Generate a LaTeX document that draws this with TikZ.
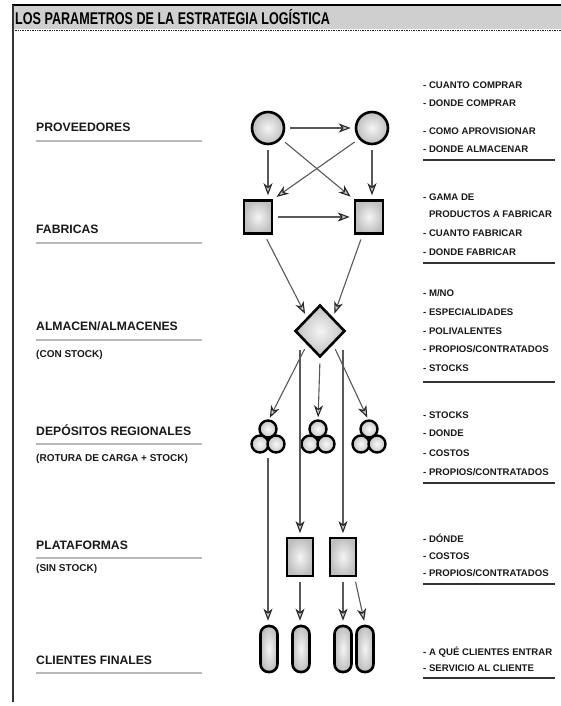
\documentclass[tikz,border=0pt]{standalone}
\usepackage{fontspec}
\setmainfont{Liberation Sans}
\newfontfamily\titlefont[FakeStretch=0.74]{Liberation Sans}
\usetikzlibrary{arrows.meta,shapes.geometric}

\tikzset{
  blob/.style={draw=black, line width=2.6pt, inner color=gray!8, outer color=gray!50},
  supplier/.style={circle, blob, minimum size=32pt, inner sep=0pt},
  factory/.style={rectangle, blob, minimum width=28pt, minimum height=33pt, inner sep=0pt},
  warehouse/.style={diamond, blob, minimum width=50pt, minimum height=52pt, inner sep=0pt},
  platform/.style={rectangle, blob, line width=1.8pt, minimum width=26pt, minimum height=38pt, inner sep=0pt},
  client/.style={rectangle, rounded corners=8pt, blob, minimum width=17pt, minimum height=46pt, inner sep=0pt},
  hub/.style={rectangle, minimum width=32pt, minimum height=31pt, inner sep=0pt},
  depotball/.style={draw=black, line width=2.4pt, inner color=gray!5, outer color=gray!45},
  flow/.style={draw=black!65, line width=1.1pt, shorten <=5pt, shorten >=4pt,
    -{Stealth[length=12pt, width=9pt, inset=3.5pt, color=black!85, fill=gray!45]}},
  lab/.style={anchor=west, inner sep=0pt, text height=0.72em, text depth=0pt,
    text=black!90, font=\bfseries\fontsize{12.2}{14}\selectfont},
  sublab/.style={anchor=west, inner sep=0pt, text height=0.72em, text depth=0pt,
    text=black!90, font=\bfseries\fontsize{10}{12}\selectfont},
  item/.style={anchor=west, inner sep=0pt, text height=0.72em, text depth=0pt,
    text=black!90, font=\bfseries\fontsize{9.6}{11}\selectfont},
  leftrule/.style={draw=gray!55, line width=1.6pt},
  rightrule/.style={draw=black!80, line width=1.2pt},
}

\begin{document}
\begin{tikzpicture}[x=1pt, y=-1pt]
  \useasboundingbox (0,0) rectangle (561,706);
  \fill[white] (0,0) rectangle (561,706);

  % header band and frame
  \fill[gray!38] (13,5) rectangle (561,29);
  \draw[black, line width=1.8pt] (12,5) -- (561,5);
  \draw[black!85, densely dotted, line width=0.7pt] (13,30) -- (561,30);
  \draw[black!80, line width=1.8pt] (13,5) -- (13,702);
  \node[anchor=west, inner sep=0pt, font=\titlefont\bfseries\fontsize{17}{17}\selectfont]
    (title) at (15,17) {LOS PARAMETROS DE LA ESTRATEGIA LOGÍSTICA};

  % level labels
  \node[lab] (lprov) at (36,128) {PROVEEDORES};
  \draw[leftrule] (36,141) -- (202,141);
  \node[lab] (lfab) at (36,230) {FABRICAS};
  \draw[leftrule] (36,243) -- (202,243);
  \node[lab] (lalm) at (36,327) {ALMACEN/ALMACENES};
  \draw[leftrule] (36,340) -- (202,340);
  \node[sublab] (lalms) at (36,354) {(CON STOCK)};
  \node[lab] (ldep) at (36,432) {DEPÓSITOS REGIONALES};
  \draw[leftrule] (36,444) -- (202,444);
  \node[sublab] (ldeps) at (36,458) {(ROTURA DE CARGA + STOCK)};
  \node[lab] (lplat) at (36,546) {PLATAFORMAS};
  \draw[leftrule] (36,558) -- (202,558);
  \node[sublab] (lplats) at (36,568) {(SIN STOCK)};
  \node[lab] (lcli) at (36,661) {CLIENTES FINALES};
  \draw[leftrule] (36,673) -- (202,673);

  % decision lists
  \node[item] (i1) at (423,85) {- CUANTO COMPRAR};
  \node[item] (i2) at (423,103) {- DONDE COMPRAR};
  \node[item] (i3) at (423,131) {- COMO APROVISIONAR};
  \node[item] (i4) at (423,149) {- DONDE ALMACENAR};
  \draw[rightrule] (423,160) -- (555,160);
  \node[item] (i5) at (423,197) {- GAMA DE};
  \node[item] (i6) at (423,214) {\phantom{- }PRODUCTOS A FABRICAR};
  \node[item] (i7) at (423,233) {- CUANTO FABRICAR};
  \node[item] (i8) at (423,252) {- DONDE FABRICAR};
  \draw[rightrule] (423,263) -- (555,263);
  \node[item] (i9) at (423,293) {- M/NO};
  \node[item] (i10) at (423,312) {- ESPECIALIDADES};
  \node[item] (i11) at (423,331) {- POLIVALENTES};
  \node[item] (i12) at (423,349) {- PROPIOS/CONTRATADOS};
  \node[item] (i13) at (423,368) {- STOCKS};
  \draw[rightrule] (423,382) -- (555,382);
  \node[item] (i14) at (423,415) {- STOCKS};
  \node[item] (i15) at (423,433) {- DONDE};
  \node[item] (i16) at (423,453) {- COSTOS};
  \node[item] (i17) at (423,472) {- PROPIOS/CONTRATADOS};
  \draw[rightrule] (423,483) -- (555,483);
  \node[item] (i18) at (423,539) {- DÓNDE};
  \node[item] (i19) at (423,556) {- COSTOS};
  \node[item] (i20) at (423,573) {- PROPIOS/CONTRATADOS};
  \draw[rightrule] (423,584) -- (555,584);
  \node[item] (i21) at (423,652) {- A QUÉ CLIENTES ENTRAR};
  \node[item] (i22) at (423,668) {- SERVICIO AL CLIENTE};
  \draw[rightrule] (423,678) -- (555,678);

  % network shapes
  \node[supplier] (p1) at (268,128) {};
  \node[supplier] (p2) at (372,128) {};
  \node[factory] (f1) at (258,217) {};
  \node[factory] (f2) at (369,217) {};
  \node[warehouse] (alm) at (320,331) {};
  \foreach \n/\x in {d1/268, d2/318, d3/369} {
    \node[hub] (\n) at (\x,437) {};
    \path[depotball] (\x,429) circle[radius=8.5pt];
    \path[depotball] (\x-8,444) circle[radius=8.5pt];
    \path[depotball] (\x+8,444) circle[radius=8.5pt];
  }
  \node[platform] (pl1) at (300,557) {};
  \node[platform] (pl2) at (343,557) {};
  \node[client] (c1) at (269,649) {};
  \node[client] (c2) at (301,649) {};
  \node[client] (c3) at (343,649) {};
  \node[client] (c4) at (365,649) {};

  % flows
  \draw[flow] (p1) -- (p2);
  \draw[flow] (p1) -- (p1 |- f1.north);
  \draw[flow] (p2) -- (p2 |- f2.north);
  \draw[flow] (p1.-40) -- (f2.north west);
  \draw[flow] (p2.220) -- (f1.north east);
  \draw[flow] (f1) -- (f2);
  \draw[flow] (f1.-70) -- (alm.north west);
  \draw[flow] (f2.250) -- (alm.north east);
  \draw[flow] (alm.south west) -- (d1.north);
  \draw[flow] (pl1 |- alm.south west) -- (pl1.north);
  \draw[flow] (alm.south) -- (d2.north);
  \draw[flow] (pl2 |- alm.south east) -- (pl2.north);
  \draw[flow] (alm.south east) -- (d3.north);
  \draw[flow] (d1.south) -- (d1.south |- c1.north);
  \draw[flow] (pl1.south) -- (pl1.south |- c2.north);
  \draw[flow] (pl2.south) -- (pl2.south |- c3.north);
  \draw[flow] (pl2.-60) -- (c4.north);
\end{tikzpicture}
\end{document}
